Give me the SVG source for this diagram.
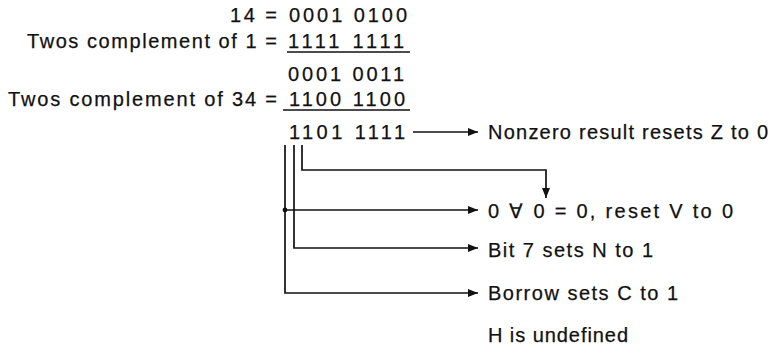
<svg xmlns="http://www.w3.org/2000/svg" width="773" height="348" viewBox="0 0 773 348">
<style>
text{font-family:"Liberation Sans",Arial,sans-serif;font-size:20px;fill:#111;stroke:#111;stroke-width:0.25}
.l{text-anchor:end}
.ln{fill:none;stroke:#111;stroke-width:1.7}
</style>
<defs>
<marker id="ah" viewBox="0 0 10 8" refX="10" refY="4" markerWidth="11" markerHeight="8" markerUnits="userSpaceOnUse" orient="auto">
<path d="M0,0L10,4L0,8z" fill="#111"/>
</marker>
</defs>
<rect width="773" height="348" fill="#fff"/>
<g id="row1">
<text class="l" x="277" y="22" textLength="47" lengthAdjust="spacing">14 =</text>
<text x="289" y="22" textLength="118" lengthAdjust="spacing">0001 0100</text>
</g>
<g id="row2">
<text class="l" x="277" y="48" textLength="250" lengthAdjust="spacing">Twos complement of 1 =</text>
<text x="288" y="48" textLength="116" lengthAdjust="spacing">1111 1111</text>
<line class="ln" x1="287" y1="52" x2="410" y2="52"/>
</g>
<g id="row3">
<text x="288" y="81" textLength="116" lengthAdjust="spacing">0001 0011</text>
</g>
<g id="row4">
<text class="l" x="277" y="106" textLength="269" lengthAdjust="spacing">Twos complement of 34 =</text>
<text x="289" y="106" textLength="116" lengthAdjust="spacing">1100 1100</text>
<line class="ln" x1="283" y1="110" x2="410" y2="110"/>
</g>
<g id="result">
<text x="289" y="139" textLength="116" lengthAdjust="spacing">1101 1111</text>
</g>
<g id="zflag">
<text x="488" y="139" textLength="280" lengthAdjust="spacing">Nonzero result resets Z to 0</text>
</g>
<g id="vflag">
<text x="488" y="218" textLength="245" lengthAdjust="spacing">0 ∀ 0 = 0, reset V to 0</text>
</g>
<g id="nflag">
<text x="488" y="257" textLength="165" lengthAdjust="spacing">Bit 7 sets N to 1</text>
</g>
<g id="cflag">
<text x="488" y="300" textLength="190" lengthAdjust="spacing">Borrow sets C to 1</text>
</g>
<g id="hflag">
<text x="488" y="342" textLength="140" lengthAdjust="spacing">H is undefined</text>
</g>
<g id="connectors">
<line class="ln" x1="413" y1="132" x2="478" y2="132" marker-end="url(#ah)"/>
<polyline class="ln" points="302,145 302,170 546,170 546,198" marker-end="url(#ah)"/>
<line class="ln" x1="285" y1="210" x2="478" y2="210" marker-end="url(#ah)"/>
<circle cx="285" cy="210" r="2.4" fill="#111"/>
<polyline class="ln" points="294,145 294,248 478,248" marker-end="url(#ah)"/>
<polyline class="ln" points="285,145 285,293 478,293" marker-end="url(#ah)"/>
</g>
</svg>
